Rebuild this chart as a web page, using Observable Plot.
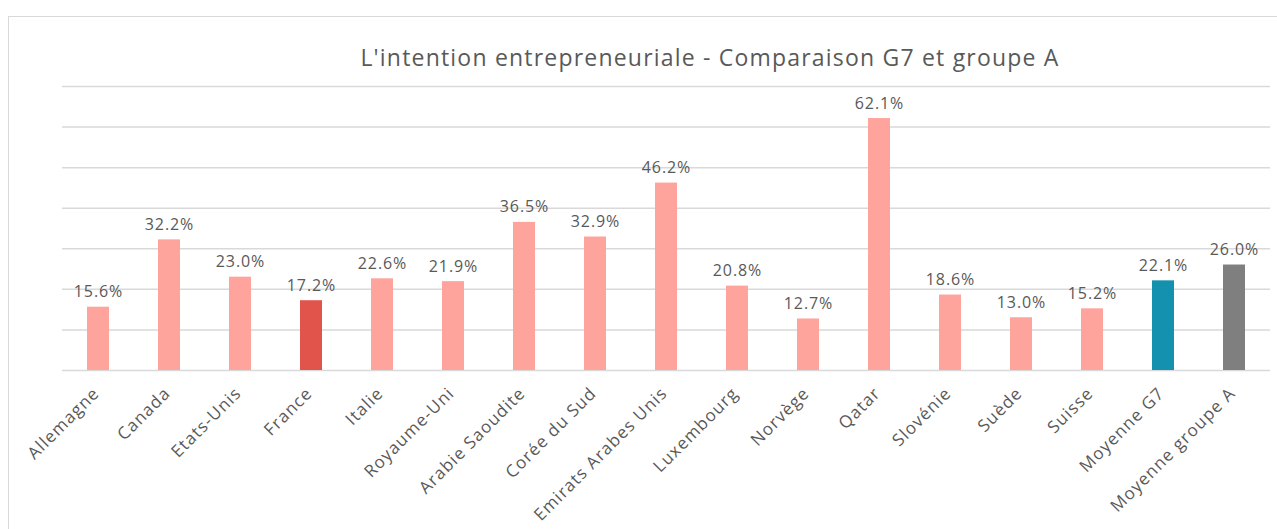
<!DOCTYPE html>
<html>
<head>
<meta charset="utf-8">
<script src="https://cdn.jsdelivr.net/npm/d3@7"></script>
<script src="https://cdn.jsdelivr.net/npm/@observablehq/plot@0.6"></script>
<style>
  html, body { margin: 0; padding: 0; width: 1277px; height: 529px; overflow: hidden; background: #fff; }
  #frame { position: absolute; left: 8px; top: 16px; width: 1300px; height: 600px; border: 1px solid #d9d9d9; box-sizing: border-box; }
  #title { position: absolute; left: 0; top: 42px; width: 1420px; text-align: center; font-family: "Open Sans", sans-serif; font-size: 23px; letter-spacing: 1.2px; color: #595959; line-height: 30px; }
  #chart { position: absolute; left: 0; top: 76px; }
  #chart svg text { letter-spacing: 0.9px; }
  #chart svg g[aria-label="x-axis tick label"] text { letter-spacing: 1.1px; }
</style>
</head>
<body>
<div id="frame"></div>
<div id="title">L'intention entrepreneuriale - Comparaison G7 et groupe A</div>
<div id="chart"></div>
<script>
const categories = ["Allemagne", "Canada", "Etats-Unis", "France", "Italie", "Royaume-Uni", "Arabie Saoudite", "Corée du Sud", "Emirats Arabes Unis", "Luxembourg", "Norvège", "Qatar", "Slovénie", "Suède", "Suisse", "Moyenne G7", "Moyenne groupe A"];
const values = [15.6, 32.2, 23.0, 17.2, 22.6, 21.9, 36.5, 32.9, 46.2, 20.8, 12.7, 62.1, 18.6, 13.0, 15.2, 22.1, 26.0];
const groups = ["pays", "pays", "pays", "France", "pays", "pays", "pays", "pays", "pays", "pays", "pays", "pays", "pays", "pays", "pays", "G7", "groupeA"];
const gridTicks = [0, 10, 20, 30, 40, 50, 60, 70];

const data = categories.map((c, i) => ({category: c, value: values[i], group: groups[i]}));

const chart = Plot.plot({
  width: 1277,
  height: 453,
  marginTop: 10,
  marginBottom: 159,
  marginLeft: 62,
  marginRight: 7,
  style: {fontFamily: "'Open Sans', sans-serif", fontSize: "17px", color: "#595959", background: "transparent"},
  x: {domain: categories, paddingInner: 0.69, paddingOuter: 0.345, label: null, axis: null},
  y: {domain: [0, 70], axis: null},
  color: {domain: ["pays", "France", "G7", "groupeA"], range: ["#FFA39D", "#E0544B", "#1591B0", "#7F7F7F"]},
  marks: [
    Plot.ruleY(gridTicks, {stroke: "#d9d9d9", strokeWidth: 1.5}),
    Plot.barY(data, {x: "category", y: "value", fill: "group"}),
    Plot.text(data, {x: "category", y: "value", text: d => d.value.toFixed(1) + "%", lineAnchor: "bottom", dy: -10, fill: "#595959", fontSize: 16}),
    Plot.axisX({tickSize: 0, tickPadding: 20, tickRotate: -45, dx: -2, fontSize: 17, fill: "#595959", label: null})
  ]
});
document.getElementById("chart").appendChild(chart);
</script>
</body>
</html>
